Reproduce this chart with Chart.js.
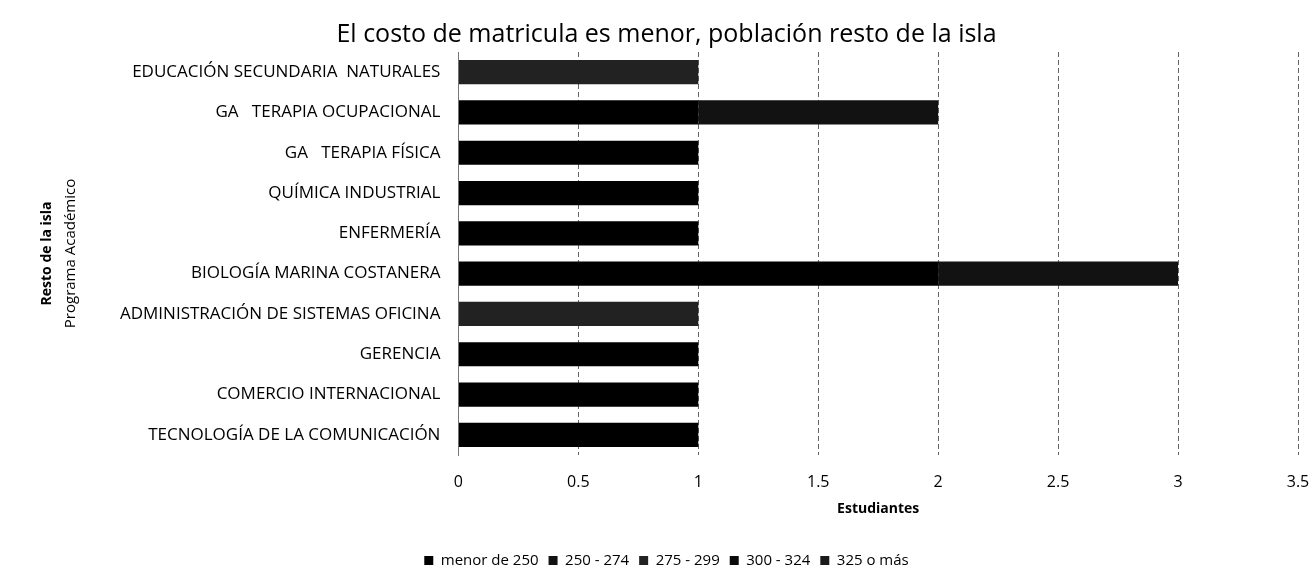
<!DOCTYPE html>
<html>
<head>
<meta charset="utf-8">
<script src="https://cdn.jsdelivr.net/npm/chart.js@4/dist/chart.umd.min.js"></script>
<style>
  html, body { margin: 0; padding: 0; background: #fff; }
  #wrap { width: 1315px; height: 578px; }
</style>
</head>
<body>
<div id="wrap"><canvas id="myChart"></canvas></div>
<script>
// datos
const programas = [
  "EDUCACIÓN SECUNDARIA  NATURALES",
  "GA   TERAPIA OCUPACIONAL",
  "GA   TERAPIA FÍSICA",
  "QUÍMICA INDUSTRIAL",
  "ENFERMERÍA",
  "BIOLOGÍA MARINA COSTANERA",
  "ADMINISTRACIÓN DE SISTEMAS OFICINA",
  "GERENCIA",
  "COMERCIO INTERNACIONAL",
  "TECNOLOGÍA DE LA COMUNICACIÓN",
];
const menor250 = [0, 1, 1, 1, 1, 2, 0, 1, 1, 1];
const r250_274 = [0, 1, 0, 0, 0, 1, 0, 0, 0, 0];
const r275_299 = [1, 0, 0, 0, 0, 0, 1, 0, 0, 0];
const r300_324 = [0, 0, 0, 0, 0, 0, 0, 0, 0, 0];
const r325mas = [0, 0, 0, 0, 0, 0, 0, 0, 0, 0];
const xTicks = [0, 0.5, 1, 1.5, 2, 2.5, 3, 3.5];
const tituloExterior = "Resto de la isla";

const FONT = "'Open Sans', sans-serif";

// primer renglón del título del eje y, en negrita (en el título se deja vacío)
const tituloNegrita = {
  id: "tituloNegrita",
  afterDraw(chart) {
    const y = chart.scales.y;
    const t = y.options.title;
    const lh = t.font.size * t.font.lineHeight;
    const c = chart.ctx;
    c.save();
    c.translate(y.left + t.padding.top + lh / 2, (chart.chartArea.top + chart.chartArea.bottom) / 2);
    c.rotate(-Math.PI / 2);
    c.font = "bold 14px " + FONT;
    c.fillStyle = "#000";
    c.textAlign = "center";
    c.textBaseline = "middle";
    c.fillText(tituloExterior, 0, 0);
    c.restore();
  },
};

document.addEventListener("DOMContentLoaded", function () {
  const ctx = document.getElementById("myChart").getContext("2d");

  new Chart(ctx, {
    type: "bar",
    data: {
      labels: programas,
      datasets: [
        { label: "menor de 250", data: menor250, backgroundColor: "#000000" },
        { label: "250 - 274", data: r250_274, backgroundColor: "#121212" },
        { label: "275 - 299", data: r275_299, backgroundColor: "#222222" },
        { label: "300 - 324", data: r300_324, backgroundColor: "#0a0a0a" },
        { label: "325 o más", data: r325mas, backgroundColor: "#1a1a1a" },
      ],
    },
    plugins: [tituloNegrita],
    options: {
      indexAxis: "y",
      responsive: true,
      maintainAspectRatio: false,
      animation: false,
      categoryPercentage: 0.6,
      barPercentage: 1.0,
      layout: { padding: { left: 35, right: 17, top: 0, bottom: 0 } },
      plugins: {
        title: {
          display: true,
          text: "El costo de matricula es menor, población resto de la isla",
          color: "#000",
          font: { family: FONT, size: 25, weight: "normal" },
          padding: { top: 20, bottom: 2 },
        },
        legend: {
          position: "bottom",
          labels: {
            color: "#000",
            font: { family: FONT, size: 15 },
            boxWidth: 9,
            boxHeight: 9,
            padding: 10,
          },
        },
        tooltip: { enabled: false },
      },
      scales: {
        x: {
          stacked: true,
          min: 0,
          max: 3.5,
          afterBuildTicks: (axis) => {
            axis.ticks = xTicks.map((v) => ({ value: v }));
          },
          grid: {
            color: "#666",
            lineWidth: 1,
            drawTicks: true,
            tickLength: 18,
            tickColor: "rgba(0,0,0,0)",
          },
          border: { display: false, dash: [5, 3] },
          ticks: {
            color: "#000",
            font: { family: FONT, size: 16 },
            padding: 0,
            callback: (v) => String(v),
          },
          title: {
            display: true,
            text: "Estudiantes",
            color: "#000",
            font: { family: FONT, size: 14, weight: "bold" },
            padding: { top: 8, bottom: 26 },
          },
        },
        y: {
          stacked: true,
          grid: { display: false, drawTicks: false },
          border: { display: true, color: "#777" },
          ticks: {
            color: "#000",
            font: { family: FONT, size: 17 },
            padding: 18,
          },
          title: {
            display: true,
            text: ["", "Programa Académico"],
            color: "#000",
            font: { family: FONT, size: 15, lineHeight: 1.6 },
            padding: { top: 0, bottom: 19 },
          },
        },
      },
    },
  });
});
</script>
</body>
</html>
